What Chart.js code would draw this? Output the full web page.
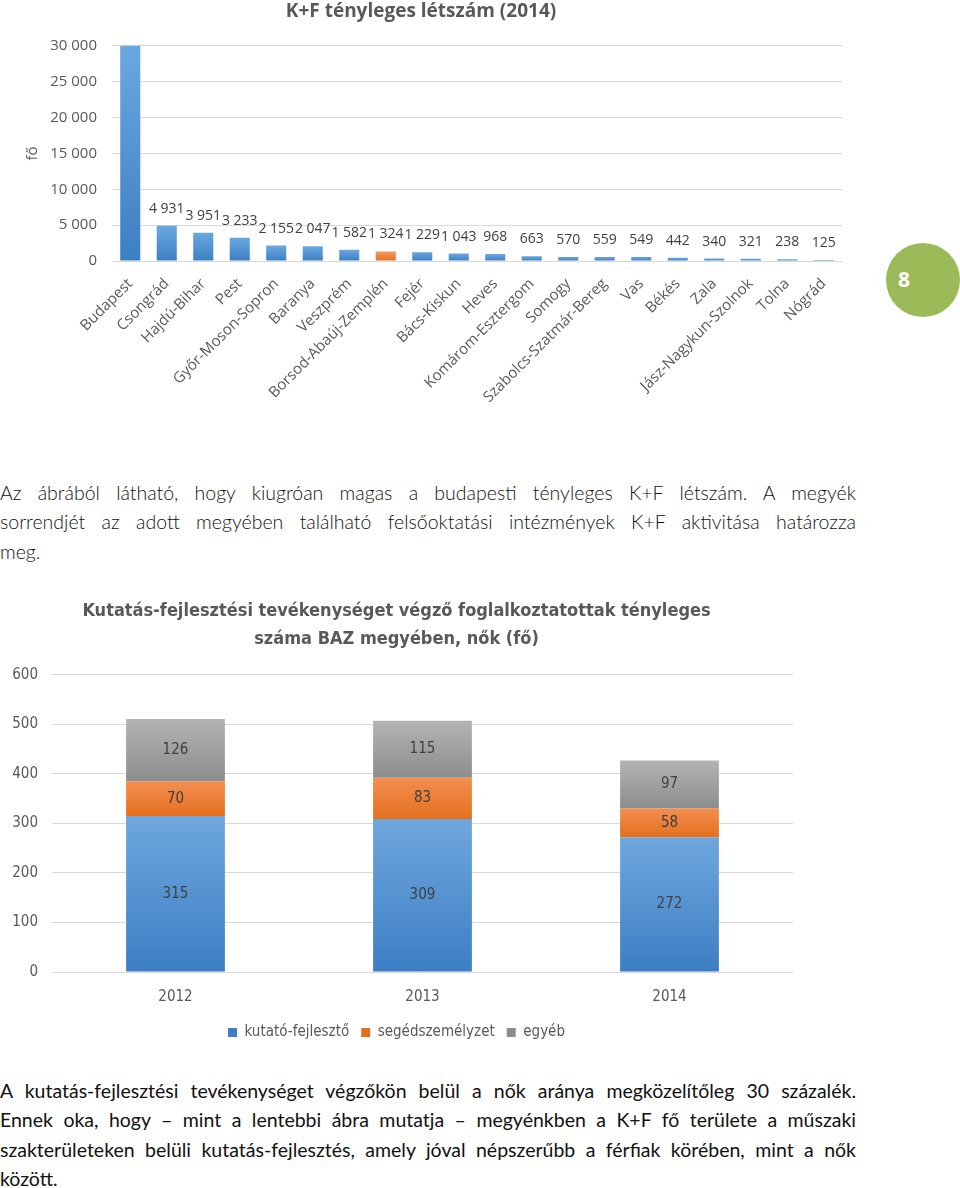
<!DOCTYPE html>
<html lang="hu">
<head>
<meta charset="utf-8">
<title>K+F tényleges létszám</title>
<script src="https://cdn.jsdelivr.net/npm/chart.js@4.4.1/dist/chart.umd.min.js"></script>
<style>
  html, body { margin: 0; padding: 0; background: #fff; }
  body { position: relative; width: 960px; height: 1188px; overflow: hidden; font-family: Lato, "Open Sans", sans-serif; color: #111; }
  .chart-box { position: absolute; left: 0; }
  #box1 { top: 0; width: 860px; height: 410px; }
  #box2 { top: 590px; width: 812px; height: 460px; }
  .page-num { position: absolute; left: 886px; top: 243px; width: 74px; height: 74px; border-radius: 50%; background: #9bbb59; color: #fff; font: bold 21px "Open Sans", sans-serif; line-height: 72px; text-indent: 12px; }
  .para { position: absolute; left: 0; width: 856px; font-size: 19.5px; line-height: 29.3px; }
  .para div { white-space: nowrap; text-align: justify; text-align-last: justify; }
  .para div.last { text-align-last: left; }
  #p1 { top: 478px; font-weight: 300; }
  #p2 { top: 1076px; }
</style>
</head>
<body>
<div class="chart-box" id="box1"><canvas id="staffChart"></canvas></div>
<div class="page-num">8</div>

<div class="para" id="p1">
  <div>Az ábrából látható, hogy kiugróan magas a budapesti tényleges K+F létszám. A megyék</div>
  <div>sorrendjét az adott megyében található felsőoktatási intézmények K+F aktivitása határozza</div>
  <div class="last">meg.</div>
</div>

<div class="chart-box" id="box2"><canvas id="womenChart"></canvas></div>

<div class="para" id="p2">
  <div>A kutatás-fejlesztési tevékenységet végzőkön belül a nők aránya megközelítőleg 30 százalék.</div>
  <div>Ennek oka, hogy – mint a lentebbi ábra mutatja – megyénkben a K+F fő területe a műszaki</div>
  <div>szakterületeken belüli kutatás-fejlesztés, amely jóval népszerűbb a férfiak körében, mint a nők</div>
  <div class="last">között.</div>
</div>

<script>
// --- Data: K+F tényleges létszám (2014), megyénként ---
const counties = ['Budapest', 'Csongrád', 'Hajdú-Bihar', 'Pest', 'Győr-Moson-Sopron', 'Baranya', 'Veszprém',
  'Borsod-Abaúj-Zemplén', 'Fejér', 'Bács-Kiskun', 'Heves', 'Komárom-Esztergom', 'Somogy',
  'Szabolcs-Szatmár-Bereg', 'Vas', 'Békés', 'Zala', 'Jász-Nagykun-Szolnok', 'Tolna', 'Nógrád'];
// Budapest runs off the top of the axis in the original, its value is an estimate
const staff2014 = [35000, 4931, 3951, 3233, 2155, 2047, 1582, 1324, 1229, 1043, 968, 663, 570, 559, 549, 442, 340, 321, 238, 125];
const highlightCounty = 'Borsod-Abaúj-Zemplén';
const staffAxisMax = 30000;
const staffAxisStep = 5000;

// --- Data: BAZ megye, nők (fő) ---
const years = ['2012', '2013', '2014'];
const researchers = [315, 309, 272];
const supportStaff = [70, 83, 58];
const otherStaff = [126, 115, 97];
const womenAxisMax = 600;
const womenAxisStep = 100;

const axisColor = '#595959';
const labelColor = '#404040';
const gridColor = '#d9d9d9';
const narrowFont = '"Liberation Sans Narrow", "DejaVu Sans Condensed", sans-serif';

// --- Helpers ---
function formatThousands(v) {
  return String(v).replace(/\B(?=(\d{3})+(?!\d))/g, ' ');
}

function verticalGradient(chart, top, bottom, light, dark) {
  const g = chart.ctx.createLinearGradient(0, top, 0, bottom);
  g.addColorStop(0, light);
  g.addColorStop(1, dark);
  return g;
}

// --- Chart 1: county totals ---
const countyLabels = {
  id: 'countyLabels',
  afterDatasetsDraw(chart) {
    const { ctx } = chart;
    const meta = chart.getDatasetMeta(0);
    ctx.save();
    ctx.font = '14px "Open Sans"';
    ctx.fillStyle = labelColor;
    ctx.textAlign = 'center';
    ctx.textBaseline = 'middle';
    meta.data.forEach((bar, i) => {
      if (staff2014[i] > staffAxisMax) return; // label falls outside the plot
      ctx.fillText(formatThousands(staff2014[i]), bar.x, bar.y - 17);
    });
    ctx.restore();
  }
};

new Chart(document.getElementById('staffChart'), {
  type: 'bar',
  data: {
    labels: counties,
    datasets: [{
      data: staff2014,
      barPercentage: 0.55,
      categoryPercentage: 1,
      backgroundColor: c => {
        if (c.type !== 'data') return '#5b9bd5';
        const colors = counties[c.dataIndex] === highlightCounty ? ['#f39a5f', '#e2701f'] : ['#6aa8e0', '#3d7fc4'];
        const y = c.chart.scales.y;
        if (!y || !c.chart.chartArea) return colors[1];
        const v = Math.min(staff2014[c.dataIndex], staffAxisMax);
        return verticalGradient(c.chart, y.getPixelForValue(v), y.getPixelForValue(0), colors[0], colors[1]);
      }
    }]
  },
  options: {
    responsive: true,
    maintainAspectRatio: false,
    animation: false,
    layout: { padding: { left: 0, right: 18, top: 0, bottom: 0 } },
    plugins: {
      legend: { display: false },
      tooltip: { enabled: false },
      title: {
        display: true,
        text: 'K+F tényleges létszám (2014)',
        color: axisColor,
        font: { family: 'Open Sans', size: 19, weight: 'bold' },
        padding: { top: 0, bottom: 23 }
      }
    },
    scales: {
      x: {
        grid: { display: false },
        border: { display: false },
        ticks: { autoSkip: false, minRotation: 45, maxRotation: 45, padding: 6, color: axisColor, font: { family: 'Open Sans', size: 15 } },
        afterFit: s => { s.height = 149; }
      },
      y: {
        min: 0,
        max: staffAxisMax,
        grid: { color: gridColor, drawTicks: false },
        border: { display: false },
        ticks: { stepSize: staffAxisStep, padding: 15, color: axisColor, font: { family: 'Open Sans', size: 15 }, callback: v => formatThousands(v) },
        title: { display: true, text: 'fő', color: axisColor, font: { family: 'Open Sans', size: 15 }, padding: { top: 24, bottom: 0 } },
        afterFit: s => { s.width = 112; }
      }
    }
  },
  plugins: [countyLabels]
});

// --- Chart 2: BAZ women, stacked ---
const stackSeries = [researchers, supportStaff, otherStaff];

function stackedFill(light, mid, dark) {
  return c => {
    if (c.type !== 'data') return mid;
    const y = c.chart.scales.y;
    if (!y || !c.chart.chartArea) return mid;
    let base = 0;
    for (let i = 0; i < c.datasetIndex; i++) base += stackSeries[i][c.dataIndex];
    const top = base + stackSeries[c.datasetIndex][c.dataIndex];
    return verticalGradient(c.chart, y.getPixelForValue(top), y.getPixelForValue(base), light, dark);
  };
}

const segmentLabels = {
  id: 'segmentLabels',
  afterDatasetsDraw(chart) {
    const { ctx } = chart;
    ctx.save();
    ctx.font = '15px ' + narrowFont;
    ctx.fillStyle = labelColor;
    ctx.textAlign = 'center';
    ctx.textBaseline = 'middle';
    chart.data.datasets.forEach((ds, di) => {
      chart.getDatasetMeta(di).data.forEach((bar, i) => {
        ctx.fillText(String(ds.data[i]), bar.x, (bar.y + bar.base) / 2);
      });
    });
    ctx.restore();
  }
};

new Chart(document.getElementById('womenChart'), {
  type: 'bar',
  data: {
    labels: years,
    datasets: [
      { label: 'kutató-fejlesztő', data: researchers, backgroundColor: stackedFill('#6fa7dd', '#4a8fd2', '#3c7ec4') },
      { label: 'segédszemélyzet', data: supportStaff, backgroundColor: stackedFill('#f38e50', '#ed7d31', '#e4701f') },
      { label: 'egyéb', data: otherStaff, backgroundColor: stackedFill('#b3b3b3', '#a5a5a5', '#8d8d8d') }
    ]
  },
  options: {
    responsive: true,
    maintainAspectRatio: false,
    animation: false,
    datasets: { bar: { barPercentage: 0.4, categoryPercentage: 1 } },
    layout: { padding: { left: 0, right: 19, top: 0, bottom: 0 } },
    plugins: {
      tooltip: { enabled: false },
      title: {
        display: true,
        text: ['Kutatás-fejlesztési tevékenységet végző foglalkoztatottak tényleges', 'száma BAZ megyében, nők (fő)'],
        color: axisColor,
        font: { family: narrowFont, size: 18, weight: 'bold', lineHeight: 1.55 },
        padding: { top: 7, bottom: 22 }
      },
      legend: {
        position: 'bottom',
        labels: { boxWidth: 9, boxHeight: 9, padding: 12, color: axisColor, font: { family: narrowFont, size: 15 } }
      }
    },
    scales: {
      x: {
        stacked: true,
        grid: { display: false },
        border: { display: false },
        ticks: { padding: 8, color: axisColor, font: { family: narrowFont, size: 15 } },
        afterFit: s => { s.height = 41; }
      },
      y: {
        stacked: true,
        min: 0,
        max: womenAxisMax,
        grid: { color: gridColor, drawTicks: false },
        border: { display: false },
        ticks: { stepSize: womenAxisStep, padding: 14, color: axisColor, font: { family: narrowFont, size: 15 } },
        afterFit: s => { s.width = 52; }
      }
    }
  },
  plugins: [segmentLabels]
});
</script>
</body>
</html>
